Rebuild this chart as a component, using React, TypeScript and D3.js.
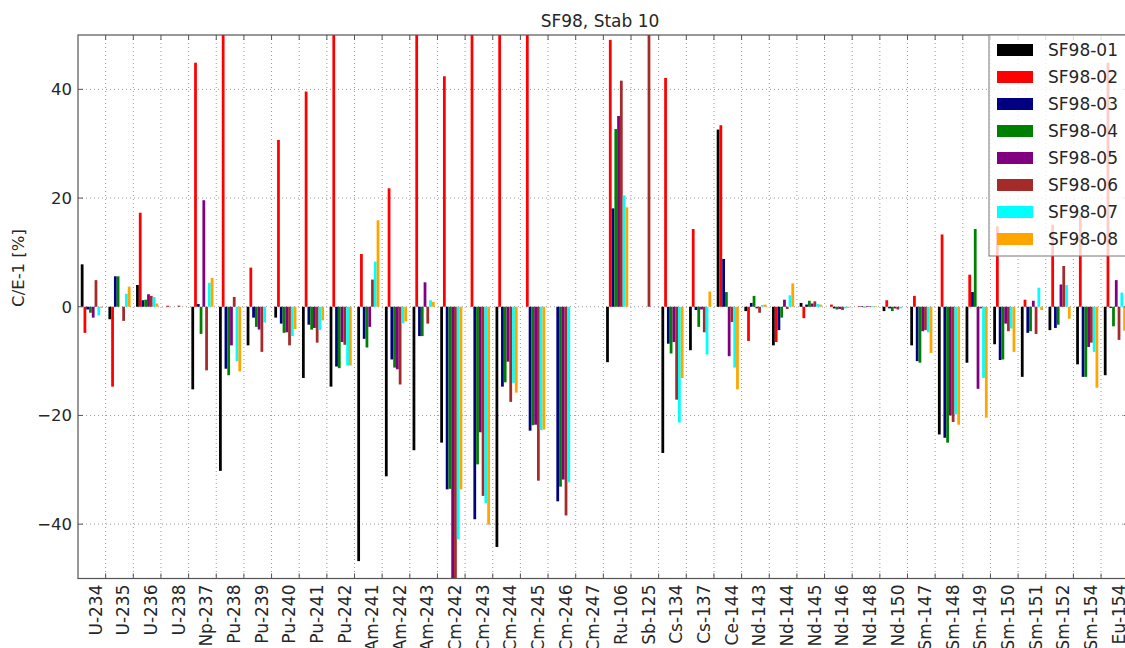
import React from "react";
import * as d3 from "d3";

// Nuclides on the x axis
const categories = [
  "U-234", "U-235", "U-236", "U-238", "Np-237", "Pu-238", "Pu-239", "Pu-240",
  "Pu-241", "Pu-242", "Am-241", "Am-242", "Am-243", "Cm-242", "Cm-243", "Cm-244",
  "Cm-245", "Cm-246", "Cm-247", "Ru-106", "Sb-125", "Cs-134", "Cs-137", "Ce-144",
  "Nd-143", "Nd-144", "Nd-145", "Nd-146", "Nd-148", "Nd-150", "Sm-147", "Sm-148",
  "Sm-149", "Sm-150", "Sm-151", "Sm-152", "Sm-154", "Eu-154",
];

// C/E-1 [%] per sample (values above 50 / below -50 run off the axes)
const sf01 = [7.8, -2.3, 4.0, 0, -15.2, -30.2, -7.1, -2.0, -13.1, -14.7, -46.8, -31.2, -26.4, -25.0, 0, -44.2, 0, 0, 0, -10.2, 0, -26.9, -8.0, 32.6, -0.8, -7.1, 0.7, 0, 0, -0.8, -7.1, -23.5, -10.3, -6.9, -12.9, -4.3, -10.6, -12.6];
const sf02 = [-4.8, -14.7, 17.3, 0.2, 44.9, 60, 7.2, 30.7, 39.6, 60, 9.7, 21.8, 60, 42.4, 60, 60, 60, 0, 0, 49.1, 0, 42.1, 14.3, 33.4, -6.3, -6.5, -2.1, 0.4, 0.1, 1.2, 2.0, 13.3, 5.9, 14.8, 1.3, 15.1, 16.7, 44.9];
const sf03 = [-0.5, 5.6, 1.2, 0, 0.5, -11.4, -2.0, -3.1, -3.3, -11.0, -5.9, -9.7, -5.4, -33.6, -39.1, -14.7, -22.8, -35.8, 0, 18.1, 0, -6.8, -0.6, 8.8, 0.7, -4.3, 0.4, -0.3, 0.1, -0.3, -10.0, -24.1, 2.7, -9.8, -4.8, -3.9, -12.9, -0.2];
const sf04 = [-1.1, 5.6, 1.3, 0, -5.0, -12.6, -3.7, -4.8, -4.2, -11.3, -7.5, -11.2, -5.4, -33.5, -29.0, -13.9, -21.8, -33.1, 0, 32.7, 0, -8.6, -3.7, 2.7, 2.0, -2.0, 1.1, -0.5, -0.1, -0.8, -10.3, -25.0, 14.3, -9.7, -4.5, -3.3, -12.9, -3.6];
const sf05 = [-2.0, 0, 2.3, 0, 19.6, -7.1, -4.2, -4.7, -3.9, -6.5, -3.7, -11.5, 4.5, -55, -23.1, -10.1, -21.7, -31.8, 0, 35.1, 0, -6.5, -0.5, -9.1, -0.3, 1.3, 0.6, -0.4, 0.1, -0.3, -4.5, -20.0, -15.1, -3.1, 1.1, 4.1, -7.4, 4.9];
const sf06 = [4.9, -2.6, 2.0, 0.2, -11.7, 1.8, -8.3, -7.1, -6.6, -7.0, 5.0, -14.3, -3.1, -55, -34.8, -17.5, -32.0, -38.4, 0, 41.6, 60, -17.1, -4.7, -2.8, -1.1, -0.4, 1.0, -0.6, 0.1, -0.5, -4.3, -21.2, -0.3, -4.5, -5.0, 7.5, -6.6, -6.1];
const sf07 = [-1.6, 2.4, 1.8, 0, 4.4, -10.0, -2.9, -5.4, -4.3, -10.8, 8.3, -3.0, 1.2, -42.8, -36.1, -14.0, -22.7, -32.3, 0, 20.5, 0, -21.3, -8.8, -11.2, 0.3, 2.1, 0.5, -0.3, 0.1, -0.3, -4.7, -19.8, -13.1, -4.0, 3.5, 4.0, -8.3, 2.6];
const sf08 = [-0.2, 3.7, 0.6, 0, 5.3, -11.9, 0, -4.1, -2.5, -10.8, 15.9, -2.7, 0.9, -33.6, -40.1, -15.8, -22.6, 0, 0, 18.3, 0, -13.1, 2.8, -15.2, 0.4, 4.3, 0.4, -0.2, 0.1, 0, -8.5, -21.7, -20.4, -8.3, -0.6, -2.2, -14.9, -4.4];

const seriesNames = ["SF98-01", "SF98-02", "SF98-03", "SF98-04", "SF98-05", "SF98-06", "SF98-07", "SF98-08"];
const seriesValues = [sf01, sf02, sf03, sf04, sf05, sf06, sf07, sf08];
const seriesColors = ["#000000", "#ff0000", "#000080", "#008000", "#800080", "#a52a2a", "#00ffff", "#ffa500"];

const yTicks = [-40, -20, 0, 20, 40];

const W = 1125;
const H = 648;
const left = 78;
const top = 35;
const bottom = 578.5;
const barWidth = 0.1;
const unitPx = 27.65;
const right = left + categories.length * unitPx;

const FONT = "'DejaVu Sans', sans-serif";
const TEXT = "#262626";

export default function App() {
  const x = d3.scaleLinear().domain([0, categories.length]).range([left, right]);
  const y = d3.scaleLinear().domain([-50, 50]).range([bottom, top]);
  const bw = x(barWidth) - x(0);

  const bars: React.ReactNode[] = [];
  seriesValues.forEach((vals, j) => {
    vals.forEach((v, i) => {
      if (v === 0) return;
      const x0 = x(i + barWidth + j * barWidth);
      const y0 = y(Math.max(v, 0));
      const y1 = y(Math.min(v, 0));
      bars.push(
        <rect key={`${j}-${i}`} x={x0} y={y0} width={bw} height={Math.max(0.6, y1 - y0)} fill={seriesColors[j]} />
      );
    });
  });

  const tickPos = categories.map((_, i) => x(i + 1));

  return (
    <svg width={W} height={H} style={{ position: "absolute", left: 0, top: 0, background: "#fff" }} fontFamily={FONT}>
      <defs>
        <clipPath id="plotArea">
          <rect x={left} y={top} width={right - left} height={bottom - top} />
        </clipPath>
      </defs>
      <rect x={0} y={0} width={W} height={H} fill="#fff" />

      {/* grid */}
      <g stroke="#9a9a9a" strokeWidth={1} strokeDasharray="1,3">
        {yTicks.map((t) => (
          <line key={`gy${t}`} x1={left} x2={right} y1={y(t)} y2={y(t)} />
        ))}
        {tickPos.map((tx, i) => (
          <line key={`gx${i}`} x1={tx} x2={tx} y1={top} y2={bottom} />
        ))}
      </g>

      {/* bars */}
      <g clipPath="url(#plotArea)">{bars}</g>

      {/* frame and inward ticks */}
      <rect x={left} y={top} width={right - left} height={bottom - top} fill="none" stroke="#555" strokeWidth={1.2} />
      <g stroke="#555" strokeWidth={1}>
        {yTicks.map((t) => (
          <g key={`ty${t}`}>
            <line x1={left} x2={left + 5} y1={y(t)} y2={y(t)} />
            <line x1={right} x2={right - 5} y1={y(t)} y2={y(t)} />
          </g>
        ))}
        {tickPos.map((tx, i) => (
          <g key={`tx${i}`}>
            <line x1={tx} x2={tx} y1={bottom} y2={bottom - 5} />
            <line x1={tx} x2={tx} y1={top} y2={top + 5} />
          </g>
        ))}
      </g>

      {/* y tick labels */}
      {yTicks.map((t) => (
        <text key={`yl${t}`} x={left - 6} y={y(t)} dy="0.36em" textAnchor="end" fontSize={16.5} fill={TEXT}>
          {t < 0 ? `\u2212${Math.abs(t)}` : `${t}`}
        </text>
      ))}

      {/* x tick labels, rotated */}
      {categories.map((c, i) => (
        <text
          key={`xl${i}`}
          transform={`translate(${tickPos[i] - 4},${bottom + 6}) rotate(-90)`}
          textAnchor="end"
          fontSize={17}
          fill={TEXT}
        >
          {c}
        </text>
      ))}

      {/* axis label and title */}
      <text transform={`translate(24,268) rotate(-90)`} textAnchor="middle" fontSize={16.5} fill={TEXT}>
        C/E-1 [%]
      </text>
      <text x={600} y={27} textAnchor="middle" fontSize={17} fill={TEXT}>
        SF98, Stab 10
      </text>

      {/* legend */}
      <g>
        <rect x={989} y={top} width={160} height={221} fill="#fff" fillOpacity={0.8} stroke="#777" strokeWidth={1} />
        {seriesNames.map((n, j) => {
          const cy = 50 + j * 27;
          return (
            <g key={n}>
              <rect x={997} y={cy - 6} width={36} height={12} fill={seriesColors[j]} />
              <text x={1048} y={cy} dy="0.36em" fontSize={17} fill={TEXT}>
                {n}
              </text>
            </g>
          );
        })}
      </g>
    </svg>
  );
}
